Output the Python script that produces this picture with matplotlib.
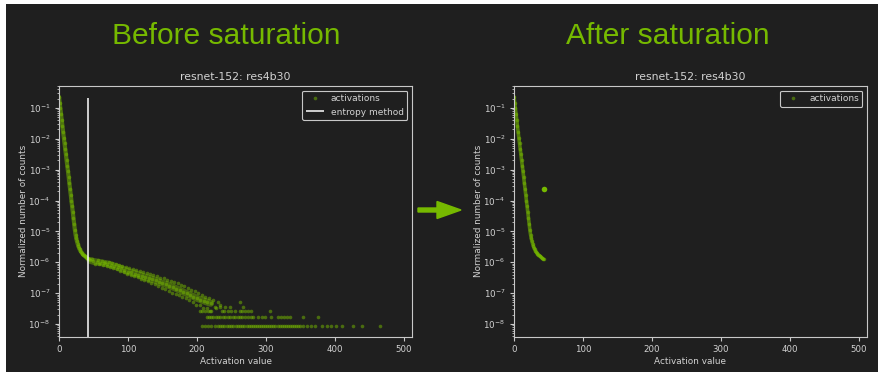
import matplotlib
matplotlib.use("Agg")
import matplotlib.pyplot as plt
from matplotlib.patches import Rectangle, FancyArrow

GREEN = "#76b900"
BG = "#1f1f1f"
FG = "#d2d2d2"
EDGE = "#c8c8c8"

# steep head of the histogram, bins 0..43 (same in both panels)
head_x = list(range(44))
head_y = [0.229, 0.148, 0.0955, 0.0617, 0.0398, 0.0257, 0.0166, 0.0107, 7.1e-3, 4.7e-3,
          3.1e-3, 2.0e-3, 1.35e-3, 8.9e-4, 5.8e-4, 3.7e-4, 2.4e-4, 1.55e-4, 1.0e-4, 6.5e-5,
          4.2e-5, 2.7e-5, 1.74e-5, 1.12e-5, 7.9e-6, 6.0e-6, 4.8e-6, 4.0e-6, 3.4e-6, 2.95e-6,
          2.6e-6, 2.4e-6, 2.2e-6, 2.04e-6, 1.9e-6, 1.78e-6, 1.70e-6, 1.62e-6, 1.55e-6, 1.48e-6,
          1.41e-6, 1.35e-6, 1.29e-6, 1.26e-6]

# slow decline after the knee (band centre)
band_x = [45, 50, 55, 60, 65, 70, 75, 80, 85, 90, 95, 100, 105, 110, 115, 120, 125, 130,
          135, 140, 145, 150, 155, 160, 165, 170, 175, 180, 185, 190, 195, 200, 205, 210,
          215, 220]
band_y = [1.15e-6, 1.07e-6, 1.02e-6, 9.8e-7, 9.3e-7, 8.9e-7, 8.3e-7, 7.6e-7, 6.9e-7, 6.3e-7,
          5.6e-7, 5.0e-7, 4.7e-7, 4.3e-7, 4.0e-7, 3.6e-7, 3.3e-7, 3.0e-7, 2.8e-7, 2.6e-7,
          2.3e-7, 2.1e-7, 1.95e-7, 1.74e-7, 1.58e-7, 1.41e-7, 1.26e-7, 1.10e-7, 9.8e-8, 8.7e-8,
          7.8e-8, 6.8e-8, 6.2e-8, 5.6e-8, 5.1e-8, 4.7e-8]

# scattered bins around the band
spread_x = [48, 52, 56, 58, 62, 64, 67, 69, 72, 74, 77, 79, 82, 84, 87, 89, 92, 94, 97, 99,
            102, 104, 107, 109, 112, 114, 117, 119, 122, 124, 127, 129, 132, 134, 137, 139,
            142, 144, 147, 149, 152, 154, 157, 159, 162, 164, 167, 169, 172, 174, 177, 179,
            182, 184, 187, 189, 192, 194, 197, 199, 202, 204, 207, 209, 212, 215, 218, 221,
            224, 227, 230, 233]
spread_y = [1.3e-6, 9.0e-7, 1.15e-6, 8.8e-7, 1.12e-6, 8.2e-7, 1.05e-6, 7.6e-7, 1.02e-6, 7.2e-7,
            9.6e-7, 6.5e-7, 9.0e-7, 6.0e-7, 8.4e-7, 5.4e-7, 7.6e-7, 4.9e-7, 7.0e-7, 4.2e-7,
            6.4e-7, 3.9e-7, 6.0e-7, 3.5e-7, 5.6e-7, 3.3e-7, 5.2e-7, 2.9e-7, 4.8e-7, 2.7e-7,
            4.5e-7, 2.4e-7, 4.2e-7, 2.1e-7, 3.9e-7, 2.0e-7, 3.5e-7, 1.7e-7, 3.2e-7, 1.5e-7,
            3.0e-7, 1.35e-7, 2.7e-7, 1.2e-7, 2.5e-7, 1.05e-7, 2.3e-7, 9.2e-8, 2.1e-7, 8.6e-8,
            1.9e-7, 7.7e-8, 1.7e-7, 6.9e-8, 1.5e-7, 6.0e-8, 1.3e-7, 5.2e-8, 1.15e-7, 4.3e-8,
            1.0e-7, 4.3e-8, 8.6e-8, 3.4e-8, 7.7e-8, 3.4e-8, 6.9e-8, 2.6e-8, 6.0e-8, 3.4e-8,
            5.2e-8, 4.3e-8]

# sparse tail: bins holding only a few counts
unit = 8.6e-9
tail_1 = [208, 212, 216, 221, 226, 230, 233, 237, 240, 244, 247, 250, 253, 256, 259, 262,
          265, 268, 272, 275, 278, 281, 284, 287, 290, 293, 296, 299, 302, 305, 308, 311,
          314, 317, 320, 323, 326, 329, 332, 335, 338, 341, 344, 347, 350, 354, 359, 366,
          371, 381, 388, 395, 402, 411, 426, 439, 466]
tail_2 = [214, 217, 220, 224, 227, 231, 234, 238, 241, 245, 248, 252, 255, 259, 263, 266,
          270, 274, 278, 281, 289, 294, 299, 308, 318, 322, 326, 330, 335, 354, 376]
tail_3 = [204, 208, 212, 216, 219, 236, 240, 245, 250, 255, 262, 266, 270, 274, 279, 306]
tail_4 = [226, 233, 241, 248, 267]
tail_6 = [263]

threshold = 42.5
threshold_top = 0.21
saturated_x = 43
saturated_y = 2.3e-4

yticks = [1e-8, 1e-7, 1e-6, 1e-5, 1e-4, 1e-3, 1e-2, 1e-1]
xticks = [0, 100, 200, 300, 400, 500]

tail_x = tail_1 + tail_2 + tail_3 + tail_4 + tail_6
tail_y = ([unit] * len(tail_1) + [2 * unit] * len(tail_2) + [3 * unit] * len(tail_3)
          + [4 * unit] * len(tail_4) + [6 * unit] * len(tail_6))

plt.rcParams.update({
    "font.family": "DejaVu Sans",
    "font.size": 6.4,
    "text.color": FG,
    "axes.labelcolor": FG,
    "axes.edgecolor": EDGE,
    "axes.facecolor": BG,
    "xtick.color": EDGE,
    "ytick.color": EDGE,
    "xtick.labelcolor": FG,
    "ytick.labelcolor": FG,
    "xtick.labelsize": 6.2,
    "ytick.labelsize": 6.3,
    "xtick.major.size": 2.8,
    "ytick.major.size": 2.8,
    "ytick.minor.size": 1.6,
})

fig = plt.figure(figsize=(8.84, 3.78), dpi=100)
fig.add_artist(Rectangle((6 / 884, 6 / 378), 872 / 884, 368 / 378,
                         transform=fig.transFigure, facecolor=BG, edgecolor="none", zorder=-5))

ax1 = fig.add_axes([59 / 884, 1 - 336.7 / 378, 353 / 884, 250.7 / 378])
ax2 = fig.add_axes([514 / 884, 1 - 336.7 / 378, 353 / 884, 250.7 / 378])

# before saturation
ax1.plot(head_x, head_y, color=GREEN, lw=3, alpha=0.55, solid_capstyle="round")
ax1.plot(band_x, band_y, color=GREEN, lw=5, alpha=0.45, solid_capstyle="round")
ax1.plot(head_x + band_x + spread_x + tail_x, head_y + band_y + spread_y + tail_y, "o",
         color=GREEN, ms=2.6, mew=0, alpha=0.5, label="activations")
ax1.vlines(threshold, 1e-10, threshold_top, color="white", lw=1.1, label="entropy method")

# after saturation
ax2.plot(head_x, head_y, color=GREEN, lw=2.6, alpha=0.6, solid_capstyle="round")
ax2.plot(head_x, head_y, "o", color=GREEN, ms=2.6, mew=0, alpha=0.5, label="activations")
ax2.plot([saturated_x], [saturated_y], "o", color=GREEN, ms=4, mew=0)

for ax in (ax1, ax2):
    ax.set_yscale("log")
    ax.set_xlim(0, 512)
    ax.set_ylim(3.9e-9, 0.51)
    ax.set_xticks(xticks)
    ax.set_yticks(yticks)
    ax.set_title("resnet-152: res4b30", fontsize=7.8, color=FG, pad=4)
    ax.set_xlabel("Activation value", labelpad=2)
    ax.set_ylabel("Normalized number of counts", labelpad=0.5)
    leg = ax.legend(loc="upper right", fontsize=6.5, facecolor=BG, edgecolor=EDGE,
                    framealpha=1, labelcolor=FG)
    leg.get_frame().set_linewidth(0.8)

fig.text(226 / 884, 1 - 36 / 378, "Before saturation", color=GREEN, fontsize=21.6,
         family="Liberation Sans", ha="center", va="center")
fig.text(668 / 884, 1 - 36 / 378, "After saturation", color=GREEN, fontsize=21.6,
         family="Liberation Sans", ha="center", va="center")

fig.add_artist(FancyArrow(4.18, 1.68, 0.43, 0, width=0.04, head_width=0.17, head_length=0.24,
                          length_includes_head=True, color=GREEN,
                          transform=fig.dpi_scale_trans))

fig.savefig("out.png", dpi=100, facecolor="white")
